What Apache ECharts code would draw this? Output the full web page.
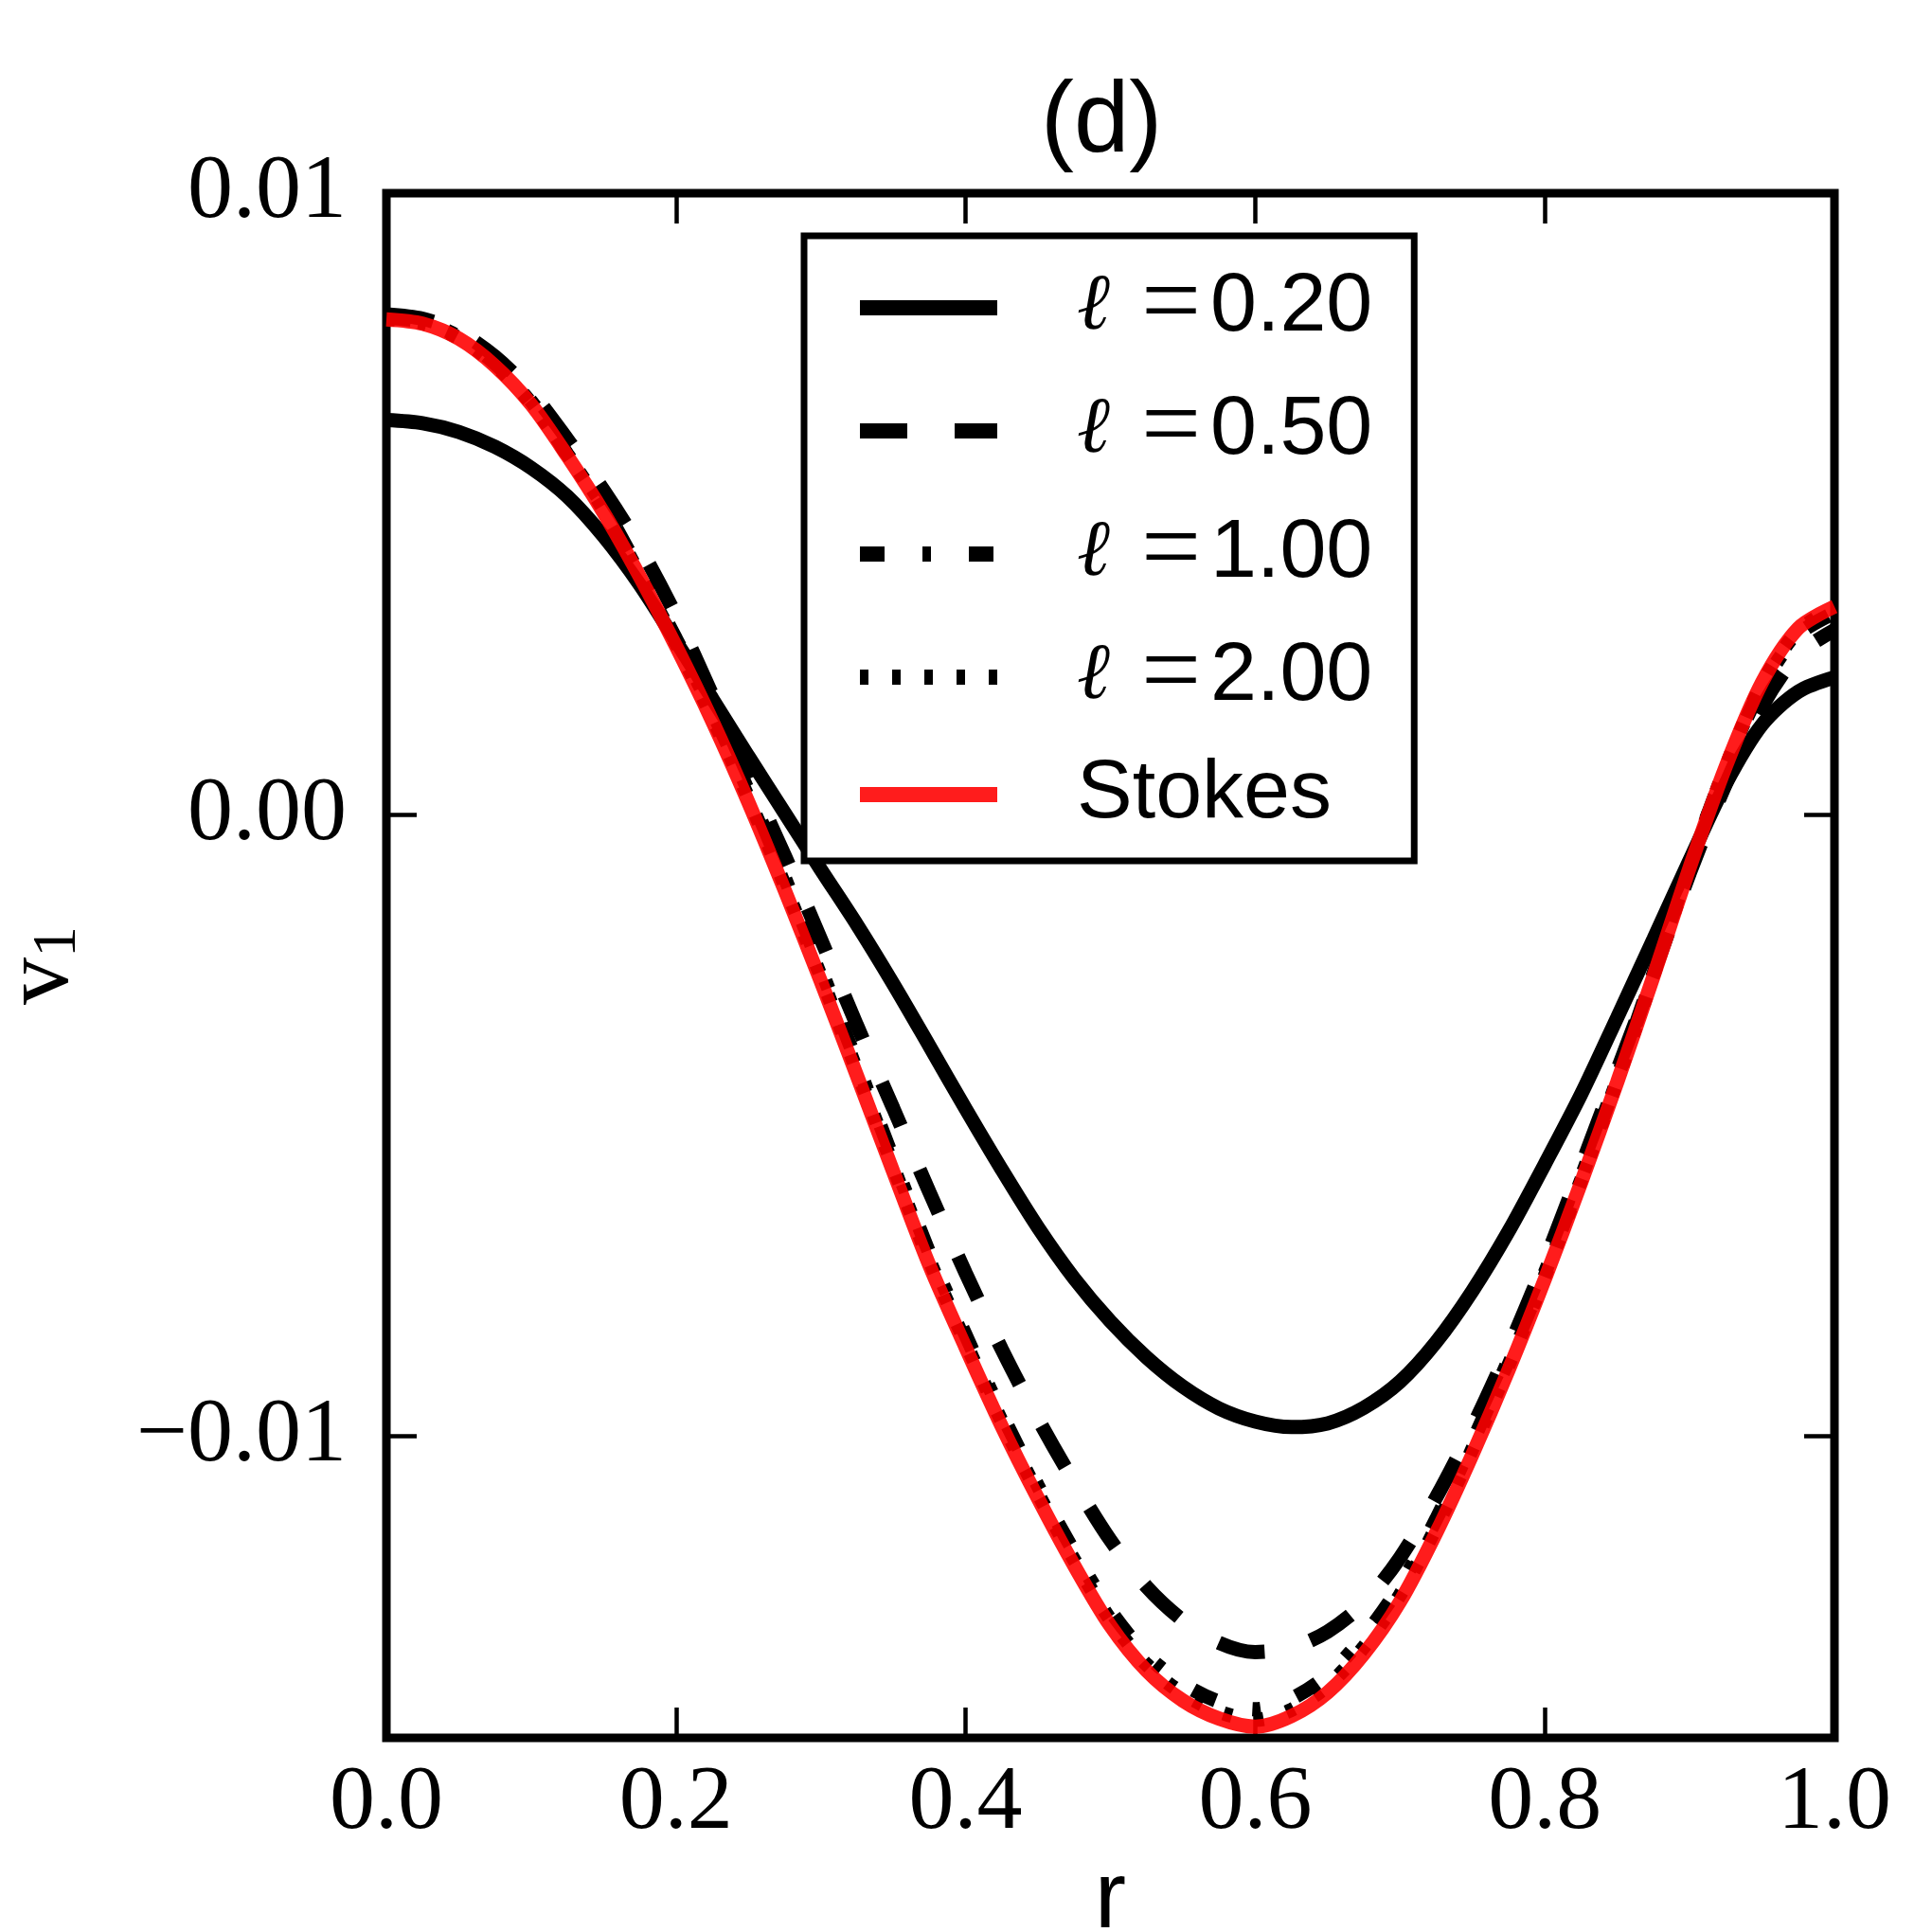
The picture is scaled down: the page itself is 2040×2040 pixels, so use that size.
<!DOCTYPE html>
<html>
<head>
<meta charset="utf-8">
<script src="https://cdn.jsdelivr.net/npm/echarts@6/dist/echarts.min.js"></script>
<style>
  html, body { margin: 0; padding: 0; background: #fff; }
  #chart { width: 2040px; height: 2040px; }
</style>
</head>
<body>
<div id="chart"></div>
<script>
// radial positions shared by every curve
var rVals = [0.000, 0.025, 0.050, 0.075, 0.100, 0.125, 0.150, 0.175, 0.200, 0.225,
             0.250, 0.275, 0.300, 0.325, 0.350, 0.375, 0.400, 0.425, 0.450, 0.475,
             0.500, 0.525, 0.550, 0.575, 0.600, 0.625, 0.650, 0.675, 0.700, 0.725,
             0.750, 0.775, 0.800, 0.825, 0.850, 0.875, 0.900, 0.925, 0.950, 0.975, 1.000];

// v1 for each length scale
var v020 = [0.00635, 0.00630, 0.00616, 0.00592, 0.00558, 0.00512, 0.00448, 0.00370, 0.00279, 0.00187,
            0.00094, 0.00003, -0.00088, -0.00177, -0.00272, -0.00372, -0.00473, -0.00571, -0.00664, -0.00746,
            -0.00815, -0.00873, -0.00920, -0.00955, -0.00976, -0.00985, -0.00979, -0.00954, -0.00912, -0.00848,
            -0.00766, -0.00670, -0.00562, -0.00450, -0.00326, -0.00200, -0.00073, 0.00050, 0.00145, 0.00198, 0.00221];
var v050 = [0.00805, 0.00798, 0.00777, 0.00737, 0.00680, 0.00604, 0.00522, 0.00430, 0.00320, 0.00193,
            0.00063, -0.00065, -0.00200, -0.00339, -0.00472, -0.00607, -0.00737, -0.00860, -0.00972, -0.01074,
            -0.01167, -0.01242, -0.01296, -0.01332, -0.01347, -0.01340, -0.01314, -0.01268, -0.01195, -0.01098,
            -0.00985, -0.00858, -0.00718, -0.00566, -0.00411, -0.00256, -0.00094, 0.00050, 0.00174, 0.00258, 0.00297];
var v100 = [0.00800, 0.00793, 0.00769, 0.00726, 0.00665, 0.00580, 0.00496, 0.00391, 0.00283, 0.00166,
            0.00038, -0.00101, -0.00248, -0.00400, -0.00554, -0.00705, -0.00837, -0.00964, -0.01080, -0.01186,
            -0.01281, -0.01352, -0.01398, -0.01427, -0.01439, -0.01422, -0.01384, -0.01322, -0.01240, -0.01133,
            -0.01009, -0.00877, -0.00737, -0.00584, -0.00423, -0.00254, -0.00081, 0.00076, 0.00206, 0.00290, 0.00325];
var v200 = [0.00798, 0.00791, 0.00767, 0.00724, 0.00662, 0.00579, 0.00491, 0.00386, 0.00276, 0.00157,
            0.00027, -0.00113, -0.00260, -0.00412, -0.00566, -0.00717, -0.00849, -0.00976, -0.01092, -0.01199,
            -0.01295, -0.01367, -0.01414, -0.01443, -0.01456, -0.01440, -0.01401, -0.01339, -0.01255, -0.01146,
            -0.01020, -0.00885, -0.00742, -0.00588, -0.00427, -0.00258, -0.00083, 0.00077, 0.00210, 0.00296, 0.00332];
var vStokes = [0.00797, 0.00790, 0.00766, 0.00722, 0.00660, 0.00577, 0.00486, 0.00383, 0.00271, 0.00151,
               0.00020, -0.00121, -0.00268, -0.00420, -0.00574, -0.00725, -0.00857, -0.00984, -0.01100, -0.01208,
               -0.01305, -0.01377, -0.01425, -0.01454, -0.01467, -0.01450, -0.01412, -0.01350, -0.01266, -0.01155,
               -0.01029, -0.00893, -0.00747, -0.00592, -0.00430, -0.00260, -0.00085, 0.00078, 0.00213, 0.00300, 0.00335];

var seriesNames = ['ℓ =0.20', 'ℓ =0.50', 'ℓ =1.00', 'ℓ =2.00', 'Stokes'];
var yTicks = [-0.01, 0, 0.01];

function pairs(ys) {
  var out = [];
  for (var i = 0; i < rVals.length; i++) out.push([rVals[i], ys[i]]);
  return out;
}

var serif = 'Liberation Serif';
var sans = 'Liberation Sans';
var red = 'rgba(255,0,0,0.89)';

var myChart = echarts.init(document.getElementById('chart'));

function line(name, ys, color, dash) {
  return {
    name: name,
    type: 'line',
    data: pairs(ys),
    smooth: 0.3,
    showSymbol: false,
    symbol: 'none',
    clip: true,
    color: color,
    lineStyle: { color: color, width: 15, type: dash, cap: 'butt' }
  };
}

var tickStyle = { show: true, inside: true, length: 32, lineStyle: { color: '#000', width: 4.5 } };
var noLine = { show: false, onZero: false };

var option = {
  animation: false,
  backgroundColor: '#fff',
  title: {
    text: '(d)',
    left: 1094,
    top: 74,
    textStyle: { fontFamily: sans, fontSize: 105, fontWeight: 'normal', color: '#000' }
  },
  grid: {
    left: 408, top: 204, width: 1529, height: 1631,
    outerBoundsMode: 'none',
    containLabel: false,
    show: true, borderColor: '#000', borderWidth: 9, backgroundColor: 'transparent'
  },
  legend: {
    orient: 'vertical',
    left: 849,
    top: 249,
    padding: [20, 44, 20, 51],
    itemWidth: 145,
    itemHeight: 30,
    itemGap: 18,
    borderColor: '#000',
    borderWidth: 7,
    backgroundColor: '#fff',
    data: seriesNames,
    lineStyle: { width: 16 },
    itemStyle: { opacity: 0 },
    formatter: function (name) {
      if (name === 'Stokes') return '{sp| }{t|Stokes}';
      return '{sp| }{l|ℓ}{g| }{e|=}{t|' + name.split('=')[1] + '}';
    },
    textStyle: {
      lineHeight: 100,
      rich: {
        sp: { width: 79, fontSize: 10 },
        l: { fontFamily: 'DejaVu Serif', fontStyle: 'italic', fontSize: 84, color: '#000', lineHeight: 100 },
        g: { width: 33, fontSize: 10, lineHeight: 100 },
        e: { fontFamily: serif, fontSize: 112, color: '#000', lineHeight: 100, width: 73 },
        t: { fontFamily: sans, fontSize: 88, color: '#000', lineHeight: 100 }
      }
    }
  },
  xAxis: [
    {
      type: 'value', min: 0, max: 1, interval: 0.2,
      name: 'r', nameLocation: 'middle', nameGap: 114,
      nameTextStyle: { fontFamily: sans, fontSize: 100, color: '#000' },
      axisLine: noLine,
      axisTick: tickStyle,
      splitLine: { show: false },
      axisLabel: {
        margin: 22, fontFamily: serif, fontSize: 96, color: '#000',
        formatter: function (v) { return v.toFixed(1); }
      }
    },
    {
      type: 'value', position: 'top', min: 0, max: 1, interval: 0.2,
      axisLine: noLine, axisTick: tickStyle,
      axisLabel: { show: false }, splitLine: { show: false }
    }
  ],
  yAxis: [
    {
      type: 'value', position: 'left', min: -0.01485, max: 0.01,
      name: '{v|v}{s|1}', nameLocation: 'middle', nameGap: 313, nameRotate: 90,
      nameTextStyle: {
        rich: {
          v: { fontFamily: serif, fontSize: 100, color: '#000', lineHeight: 100, verticalAlign: 'bottom' },
          s: { fontFamily: serif, fontSize: 66, color: '#000', lineHeight: 66, verticalAlign: 'bottom' }
        }
      },
      axisLine: noLine,
      axisTick: Object.assign({ customValues: yTicks }, tickStyle),
      splitLine: { show: false },
      axisLabel: {
        customValues: yTicks,
        margin: 42, fontFamily: serif, fontSize: 96, color: '#000',
        formatter: function (v) { return v.toFixed(2).replace('-', '\u2212'); }
      }
    },
    {
      type: 'value', position: 'right', min: -0.01485, max: 0.01,
      axisLine: noLine,
      axisTick: Object.assign({ customValues: yTicks }, tickStyle),
      axisLabel: { show: false }, splitLine: { show: false }
    }
  ],
  series: [
    line(seriesNames[0], v020, '#000', 'solid'),
    line(seriesNames[1], v050, '#000', [50, 50]),
    line(seriesNames[2], v100, '#000', [26, 40, 9, 40]),
    line(seriesNames[3], v200, '#000', [9, 25]),
    line(seriesNames[4], vStokes, red, 'solid')
  ]
};

myChart.setOption(option);
</script>
</body>
</html>
